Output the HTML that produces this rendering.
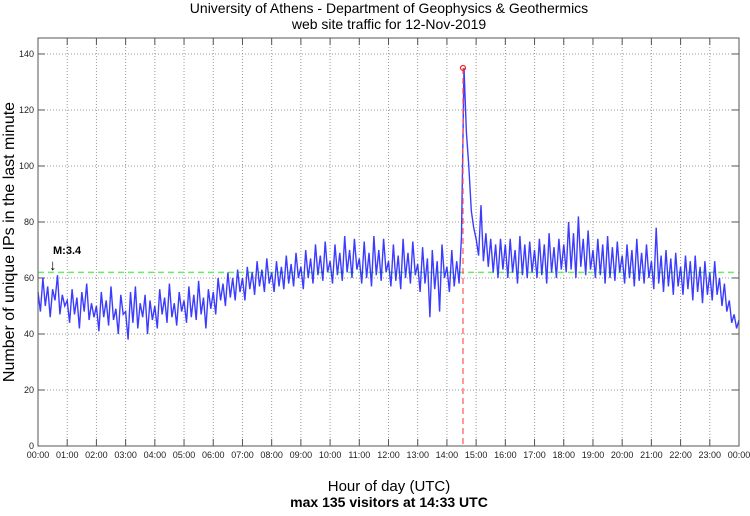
<!DOCTYPE html>
<html><head><meta charset="utf-8">
<style>
body{margin:0;background:#fff;width:750px;height:511px;overflow:hidden;font-family:"Liberation Sans",sans-serif}
svg text{font-family:"Liberation Sans",sans-serif}
</style></head>
<body>
<svg id="chart" width="750" height="511" viewBox="0 0 750 511" xmlns="http://www.w3.org/2000/svg">
<text x="389" y="13" font-size="14" text-anchor="middle">University of Athens - Department of Geophysics &amp; Geothermics</text>
<text x="389" y="29" font-size="14" text-anchor="middle">web site traffic for 12-Nov-2019</text>
<g id="grid"></g>
<g id="ticks"></g>
<g id="series"></g>
<rect x="38" y="38" width="701" height="408" fill="none" stroke="#555" stroke-width="1"/>
<text transform="translate(14,242) rotate(-90)" font-size="16" text-anchor="middle">Number of unique IPs in the last minute</text>
<text x="389" y="491" font-size="15" text-anchor="middle">Hour of day (UTC)</text>
<text x="389" y="507" font-size="14" font-weight="bold" text-anchor="middle">max 135 visitors at 14:33 UTC</text>
<text x="53" y="254" font-size="11" font-weight="bold">M:3.4</text>
<text x="49" y="270" font-size="15">↓</text>
</svg>
<script>
const hourLabels=["00:00","01:00","02:00","03:00","04:00","05:00","06:00","07:00","08:00","09:00","10:00","11:00","12:00","13:00","14:00","15:00","16:00","17:00","18:00","19:00","20:00","21:00","22:00","23:00","00:00"];
const yTicks=[0,20,40,60,80,100,120,140];
const meanLevel=62;
const peakValue=135;
const peakMinute=14*60+33;
const visitors=[
55,48,60,50,57,46,56,52,61,47,54,50,
52,44,56,47,53,42,55,48,58,45,51,46,
50,41,55,46,52,43,57,45,49,40,54,47,
48,38,55,44,57,42,51,46,54,40,52,45,
50,42,56,47,53,44,58,46,51,43,55,48,
52,44,57,46,54,45,59,47,53,42,56,49,
55,47,60,52,58,50,62,53,60,52,63,55,
60,52,64,56,62,54,66,57,63,55,67,58,
62,55,66,57,64,56,68,58,65,57,69,60,
64,56,70,60,67,58,72,61,68,59,73,62,
66,58,72,61,69,59,75,62,70,60,74,63,
67,58,73,60,69,57,75,61,70,59,74,62,
66,57,72,59,68,56,74,60,69,58,73,61,
65,55,71,58,67,46,70,56,66,48,72,60,
64,55,70,57,66,58,75,135,112,100,84,78,
74,68,86,66,76,64,74,62,72,60,74,63,
72,60,74,62,70,58,75,61,72,60,73,62,
70,60,74,61,72,58,76,62,71,60,74,63,
72,62,80,63,76,60,82,64,74,61,77,63,
70,60,74,61,72,58,75,60,71,59,73,62,
68,58,72,60,70,57,74,59,69,58,72,60,
66,56,78,58,68,55,70,57,67,54,69,57,
64,54,68,56,66,52,68,55,64,51,66,54,
62,52,66,54,60,50,58,48,52,44,47,42,
45];
const NS="http://www.w3.org/2000/svg";
const X0=38,X1=739,Y0=446,YTOP=38,YMAX=145.7;
function xMin(m){return X0+(X1-X0)*m/1440;}
function yVal(v){return Y0-(Y0-YTOP)*v/YMAX;}
function mk(tag,attrs,parent){const e=document.createElementNS(NS,tag);for(const k in attrs)e.setAttribute(k,attrs[k]);parent.appendChild(e);return e;}
const grid=document.getElementById('grid'),ticks=document.getElementById('ticks'),series=document.getElementById('series');
hourLabels.forEach((lab,i)=>{
  const x=xMin(i*60);
  if(i>0&&i<24){
    const g=mk('line',{x1:x,x2:x,y1:YTOP,y2:Y0,stroke:'#999','stroke-dasharray':'1,2'},grid);
    
    
    const t=mk('line',{x1:x,x2:x,y1:Y0,y2:Y0-7,stroke:'#555'},ticks);
    
    
    const t2=mk('line',{x1:x,x2:x,y1:YTOP,y2:YTOP+7,stroke:'#555'},ticks);
    
    
  }
  const tx=mk('text',{x:x,y:458,'font-size':9,'text-anchor':'middle',fill:'#222'},ticks);
  tx.textContent=lab;
  
  
});
yTicks.forEach(v=>{
  const y=yVal(v);
  if(v>0){
    const g=mk('line',{x1:X0,x2:X1,y1:y,y2:y,stroke:'#999','stroke-dasharray':'1,2'},grid);
    
    
    const t=mk('line',{x1:X0,x2:X0+7,y1:y,y2:y,stroke:'#555'},ticks);
    
    
    const t2=mk('line',{x1:X1-7,x2:X1,y1:y,y2:y,stroke:'#555'},ticks);
    
    
  }
  const tx=mk('text',{x:34,y:y+3,'font-size':9,'text-anchor':'end',fill:'#222'},ticks);
  tx.textContent=v;
  
  
});
const ml=mk('line',{x1:X0,x2:X1,y1:yVal(meanLevel),y2:yVal(meanLevel),stroke:'#66ee66','stroke-width':1.5,'stroke-dasharray':'6,4'},series);


const step=1440/(visitors.length-1);
const pts=visitors.map((v,i)=>xMin(i*step).toFixed(1)+','+yVal(v).toFixed(1)).join(' ');
const pl=mk('polyline',{points:pts,fill:'none',stroke:'#1a1aff','stroke-width':1.4,'stroke-opacity':0.85},series);


const px=xMin(peakMinute);
const pv=mk('line',{x1:px,x2:px,y1:yVal(peakValue),y2:Y0,stroke:'#ff5555','stroke-width':1.2,'stroke-dasharray':'6,4'},series);


const pm=mk('circle',{cx:px,cy:yVal(peakValue),r:2.5,fill:'none',stroke:'#ff2222','stroke-width':1.2},series);


</script>
</body></html>
